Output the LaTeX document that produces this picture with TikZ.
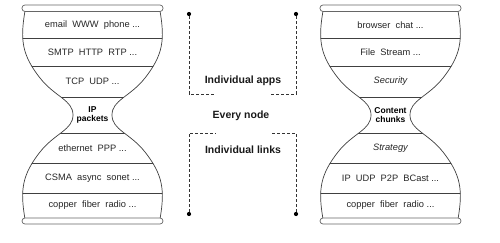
\documentclass[tikz,border=0pt]{standalone}
\usepackage{fontspec}
\setmainfont{Liberation Sans}
\usetikzlibrary{positioning}

\tikzset{
  layer/.style={font=\fontsize{9.3}{10}\selectfont, text=black!85, inner sep=1pt},
  waist/.style={font=\fontsize{8.5}{9.5}\selectfont\bfseries, align=center, text=black, inner sep=0pt},
  midlabel/.style={font=\fontsize{10.5}{12}\selectfont\bfseries, text=black!90},
  endcap/.style={draw=black!60, fill=white, rounded corners=3pt, line width=0.7pt},
  sep/.style={draw=black!75, line width=0.7pt},
  outline/.style={draw=black!75, line width=0.7pt},
  bracket/.style={draw=black!80, densely dashed, line width=0.6pt},
  dot/.style={circle, fill=black, inner sep=0pt, minimum size=4.2pt},
}

% hourglass outline, centred on x=92.5, waist at y=115
\newcommand{\hgoutline}{(25,11) .. controls (20,40) and (22,55) .. (40,78)
  .. controls (55,97) and (73,100) .. (73,115)
  .. controls (73,130) and (55,133) .. (40,152)
  .. controls (22,175) and (20,190) .. (25,219) -- (160,219)
  .. controls (165,190) and (163,175) .. (145,152)
  .. controls (130,133) and (112,130) .. (112,115)
  .. controls (112,100) and (130,97) .. (145,78)
  .. controls (163,55) and (165,40) .. (160,11) -- cycle}

\begin{document}
\begin{tikzpicture}[x=1pt, y=-1pt]
  \useasboundingbox (0,0) rectangle (500,243);

  % left hourglass: internet
  \begin{scope}
    \draw[outline] \hgoutline;
    \begin{scope}
      \clip \hgoutline;
      \foreach \y in {38,66,97,133,163,193} \draw[sep] (0,\y) -- (185,\y);
    \end{scope}
    \draw[endcap] (22,5) rectangle (163,11.5);
    \draw[endcap] (22,218) rectangle (163,224);
    \foreach \y/\t [count=\i] in {25/{email\ \ WWW\ \ phone ...},
                                 52/{SMTP\ \ HTTP\ \ RTP ...},
                                 81.5/{TCP\ \ UDP ...},
                                 148/{ethernet\ \ PPP ...},
                                 178/{CSMA\ \ async\ \ sonet ...},
                                 205.5/{copper\ \ fiber\ \ radio ...}}
      \node[layer] (ip\i) at (92.5,\y) {\t};
    \node[waist] (ipwaist) at (92.5,115) {IP\\packets};
  \end{scope}

  % right hourglass: content
  \begin{scope}[xshift=298pt]
    \draw[outline] \hgoutline;
    \begin{scope}
      \clip \hgoutline;
      \foreach \y in {38,66,97,133,163,193} \draw[sep] (0,\y) -- (185,\y);
    \end{scope}
    \draw[endcap] (22,5) rectangle (163,11.5);
    \draw[endcap] (22,218) rectangle (163,224);
    \foreach \y/\t [count=\i] in {25/{browser\ \ chat ...},
                                 52/{File\ \ Stream ...},
                                 81.5/{\itshape Security},
                                 148/{\itshape Strategy},
                                 178/{IP\ \ UDP\ \ P2P\ \ BCast ...},
                                 205.5/{copper\ \ fiber\ \ radio ...}}
      \node[layer] (cc\i) at (92.5,\y) {\t};
    \node[waist] (ccwaist) at (92.5,115) {Content\\chunks};
  \end{scope}

  % middle brackets
  \node[dot] (appsl) at (189,14) {};
  \node[dot] (appsr) at (296,14) {};
  \coordinate (appslc) at (189,94);
  \coordinate (appsle) at (216,94);
  \coordinate (appsrc) at (296,94);
  \coordinate (appsre) at (270,94);
  \draw[bracket] (appsl) -- (appslc) -- (appsle);
  \draw[bracket] (appsr) -- (appsrc) -- (appsre);

  \node[dot] (linksl) at (189,214) {};
  \node[dot] (linksr) at (296,214) {};
  \coordinate (linkslc) at (189,133);
  \coordinate (linksle) at (216,133);
  \coordinate (linksrc) at (296,133);
  \coordinate (linksre) at (270,133);
  \draw[bracket] (linksl) -- (linkslc) -- (linksle);
  \draw[bracket] (linksr) -- (linksrc) -- (linksre);

  \node[midlabel] (apps) at (243,81) {Individual apps};
  \node[midlabel] (every) at (241,116) {Every node};
  \node[midlabel] (links) at (243,150) {Individual links};
\end{tikzpicture}
\end{document}
